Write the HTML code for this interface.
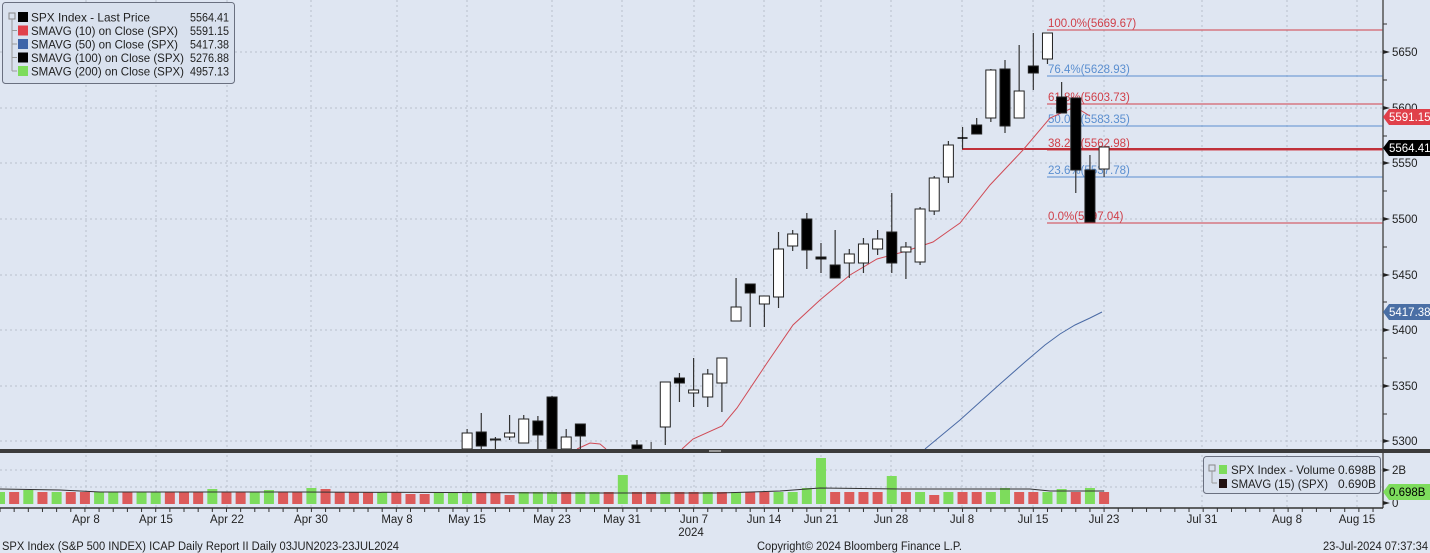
<!DOCTYPE html>
<html><head><meta charset="utf-8">
<style>
html,body{margin:0;padding:0;}
body{width:1430px;height:553px;overflow:hidden;background:#dfe6f2;font-family:"Liberation Sans",sans-serif;}
svg{display:block;}
text{font-family:"Liberation Sans",sans-serif;}
</style></head><body>
<svg id="s" width="1430" height="553" xmlns="http://www.w3.org/2000/svg">
<rect x="0" y="0" width="1430" height="553" fill="#dfe6f2"/>
<g id="grid"></g>
<g id="fib"></g>
<g id="ma"></g>
<g id="candles"></g>
<g id="vol"></g>
<g id="axes"></g>
</svg>
<script>
var NS="http://www.w3.org/2000/svg";
function el(p,t,a,txt){var e=document.createElementNS(NS,t);for(var k in a)e.setAttribute(k,a[k]);if(txt!==undefined)e.textContent=txt;document.getElementById(p).appendChild(e);return e;}
function tl(x,y,w,t,size,anchor){var a={x:x,y:y,'font-size':(size||12)+'px',fill:'#222',textLength:w,lengthAdjust:'spacingAndGlyphs'};if(anchor)a['text-anchor']=anchor;return el('axes','text',a,t);}
var S=14.155;function X(i){return S*i;}
var hy=[52,108,163,219,275,330,386,441];
hy.forEach(function(y){el('grid','line',{x1:0,x2:1383,y1:y,y2:y,stroke:'#b8c0cc','stroke-dasharray':'2,3','stroke-width':1});});
var labs=[["Apr 8",86],["Apr 15",156],["Apr 22",227],["Apr 30",311],["May 8",397],["May 15",467],["May 23",552],["May 31",622],["Jun 7",694],["Jun 14",764],["Jun 21",821],["Jun 28",891],["Jul 8",962],["Jul 15",1033],["Jul 23",1104],["Jul 31",1202],["Aug 8",1287],["Aug 15",1357]];
labs.forEach(function(l){el('grid','line',{x1:l[1],x2:l[1],y1:0,y2:449,stroke:'#b8c0cc','stroke-dasharray':'2,3'});el('grid','line',{x1:l[1],x2:l[1],y1:455,y2:508,stroke:'#b8c0cc','stroke-dasharray':'2,3'});});
[470,487].forEach(function(y){el('grid','line',{x1:0,x2:1383,y1:y,y2:y,stroke:'#b8c0cc','stroke-dasharray':'2,3'});});
var fib=[[30,'#d0404a','100.0%(5669.67)'],[76,'#5b8fd0','76.4%(5628.93)'],[104,'#d0404a','61.8%(5603.73)'],[126,'#5b8fd0','50.0%(5583.35)'],[150,'#d0404a','38.2%(5562.98)'],[177,'#5b8fd0','23.6%(5537.78)'],[223,'#d0404a','0.0%(5497.04)']];
fib.forEach(function(f){el('fib','line',{x1:1047,x2:1383,y1:f[0],y2:f[0],stroke:f[1],'stroke-width':1});el('fib','text',{x:1048,y:f[0]-3,fill:f[1],'font-size':'11.5px'},f[2]);});
el('fib','line',{x1:962,x2:1383,y1:149,y2:149,stroke:'#c0303a','stroke-width':2});
el('ma','polyline',{points:'577,449 590,443 600,444 606,449',fill:'none',stroke:'#d04a55','stroke-width':1});
el('ma','polyline',{points:'682,449 693,439 722,426 737,408 767,363 793,325 820,300 850,275 877,259 903,252 933,242 950,230 960,223 990,185 1023,150 1050,118 1070,109 1080,110 1090,116',fill:'none',stroke:'#d04a55','stroke-width':1});
el('ma','polyline',{points:'925,449 960,420 1000,384 1025,362 1045,345 1060,334 1075,325 1090,318 1102,312',fill:'none',stroke:'#4a6aa5','stroke-width':1});
var C=[[33,433,449,429,449,0],[34,432,446,413,449,1],[35,439,440,437,449,1],[36,433,437,415,440,0],[37,419,443,415,443,0],[38,421,435,416,449,1],[39,397,449,396,449,1],[40,437,449,429,449,0],[41,424,436,424,449,1],[45,445,449,440,449,1],[47,382,427,382,445,0],[48,378,383,373,402,1],[49,390,393,358,407,0],[50,374,397,369,407,0],[51,358,383,358,412,0],[52,307,321,278,321,0],[53,284,293,284,327,1],[54,296,304,296,327,0],[55,249,297,232,308,0],[56,234,246,230,251,0],[57,219,250,213,269,1],[58,257,259,243,273,1],[59,265,278,230,278,1],[60,254,263,249,278,0],[61,244,263,238,273,0],[62,239,249,230,255,0],[63,232,263,193,273,1],[64,247,252,242,279,0],[65,209,262,207,265,0],[66,178,211,176,215,0],[67,145,177,141,183,0],[68,138,138,127,149,1],[69,125,134,118,134,1],[70,70,118,69,122,0],[71,69,126,60,133,1],[72,91,118,45,118,0],[73,66,73,33,90,1],[74,33,59,33,64,0],[75,97,113,82,113,1],[76,98,170,98,193,1],[77,170,222,155,222,1],[78,147,169,147,177,0]];
el('candles','line',{x1:X(46),x2:X(46),y1:442,y2:449,stroke:'#333'});
C.forEach(function(c){var x=X(c[0]);el('candles','line',{x1:x,x2:x,y1:c[3],y2:c[4],stroke:'#333','stroke-width':1.2});
if(c[1]==c[2]){el('candles','line',{x1:x-5,x2:x+5,y1:c[1],y2:c[1],stroke:'#000','stroke-width':1.5});}
else el('candles','rect',{x:x-5,y:c[1],width:10,height:c[2]-c[1],fill:c[5]?'#000':'#fff',stroke:'#222','stroke-width':1});});
el('axes','rect',{x:0,y:449,width:1430,height:4,fill:'#3c3c3c'});
el('axes','rect',{x:709,y:450,width:12,height:2,fill:'#999'});
var col="GRGRGRRGGRGGRRRGRRGGRRGRRRRGRRRGGGRRRGGGRGGRGRRGRRGRGRRGGGGRRRRGRGRGRRGGRRGGRGR";
var hi={2:490,15:489,19:490,22:488,23:489,44:475,57:488,58:458,63:476,71:488,75:489,77:488,36:495,66:495,30:494,29:494};
for(var i=0;i<=78;i++){var x=X(i);var t=hi[i]||492;el('vol','rect',{x:x-5,y:t,width:10,height:504-t,fill:col[i]=='G'?'#7ddc5c':'#dc5a5a'});}
el('vol','polyline',{points:'0,489 60,490 100,492 300,492 560,493 720,493 780,491 820,488 900,489 1030,489 1050,491 1104,491',fill:'none',stroke:'#333','stroke-width':1});
el('axes','line',{x1:1383,x2:1383,y1:0,y2:449,stroke:'#555','stroke-width':1.5});
el('axes','line',{x1:1383,x2:1383,y1:453,y2:508,stroke:'#555','stroke-width':1.5});
el('axes','line',{x1:0,x2:1383,y1:508,y2:508,stroke:'#333','stroke-width':1.5});
for(var i=0;i<=97;i++){var x=X(i);el('axes','line',{x1:x,x2:x,y1:508,y2:512,stroke:'#333'});}
[[5650,52],[5600,108],[5550,163],[5500,219],[5450,275],[5400,330],[5350,386],[5300,441]].forEach(function(p){el('axes','path',{d:'M1383,'+(p[1]-2)+' L1390,'+p[1]+' L1383,'+(p[1]+2)+'Z',fill:'#222'});el('axes','text',{x:1392,y:p[1]+4,'font-size':'11.5px',fill:'#222'},p[0]);});
[24,80,136,191,247,302,358,414].forEach(function(y){el('axes','line',{x1:1383,x2:1387,y1:y,y2:y,stroke:'#333'});});
function tag(y,bg,fg,t){el('axes','path',{d:'M1383,'+y+' L1389,'+(y-8)+' L1430,'+(y-8)+' L1430,'+(y+8)+' L1389,'+(y+8)+'Z',fill:bg});el('axes','text',{x:1389,y:y+4,'font-size':'11.5px',fill:fg},t);}
tag(117,'#e0404a','#fff','5591.15');tag(148,'#000','#fff','5564.41');tag(312,'#4a6fa5','#fff','5417.38');
[[470,'2B'],[503,'0']].forEach(function(p){el('axes','path',{d:'M1383,'+(p[0]-2)+' L1390,'+p[0]+' L1383,'+(p[0]+2)+'Z',fill:'#222'});el('axes','text',{x:1392,y:p[0]+4,'font-size':'11.5px',fill:'#222'},p[1]);});
tag(492,'#7ddc5c','#000','0.698B');
labs.forEach(function(l){el('axes','text',{x:l[1],y:523,'font-size':'11.5px',fill:'#222','text-anchor':'middle'},l[0]);});
el('axes','text',{x:691,y:536,'font-size':'11.5px',fill:'#222','text-anchor':'middle'},'2024');
tl(2,550,397,'SPX Index (S&P 500 INDEX) ICAP Daily Report II  Daily 03JUN2023-23JUL2024',11.5);
tl(757,550,205,'Copyright\u00a9 2024 Bloomberg Finance L.P.',11.5);
tl(1323,550,105,'23-Jul-2024 07:37:34',11.5);
el('axes','rect',{x:2.5,y:2.5,width:232,height:81,rx:3,fill:'#d9e1ee',stroke:'#6a7080','stroke-width':1});
var L=[['#000','SPX Index - Last Price','5564.41',119],['#e0404a','SMAVG (10)  on Close (SPX)','5591.15',147],['#3d64a8','SMAVG (50)  on Close (SPX)','5417.38',147],['#000','SMAVG (100)  on Close (SPX)','5276.88',153],['#7ddc5c','SMAVG (200)  on Close (SPX)','4957.13',153]];
el('axes','rect',{x:9,y:13,width:6,height:6,fill:'none',stroke:'#888'});
el('axes','line',{x1:12,x2:12,y1:19,y2:71,stroke:'#999'});
L.forEach(function(r,k){var y=17+k*13.5;if(k>0)el('axes','line',{x1:12,x2:17,y1:y,y2:y,stroke:'#999'});el('axes','rect',{x:18,y:y-5,width:10,height:10,fill:r[0]});tl(31,y+4.5,r[3],r[1],12);tl(190,y+4.5,39,r[2],12);});
el('axes','rect',{x:1203.5,y:456.5,width:177,height:37,rx:3,fill:'#d9e1ee',stroke:'#6a7080'});
el('axes','rect',{x:1209,y:465,width:6,height:6,fill:'none',stroke:'#888'});
el('axes','line',{x1:1212,x2:1212,y1:471,y2:483,stroke:'#999'});
el('axes','line',{x1:1212,x2:1217,y1:483,y2:483,stroke:'#999'});
el('axes','rect',{x:1219,y:465,width:8,height:9,fill:'#7ddc5c'});
el('axes','rect',{x:1219,y:479,width:8,height:9,fill:'#201010'});
tl(1231,474,104,'SPX Index - Volume',12);
tl(1338,474,38,'0.698B',12);
tl(1231,488,97,'SMAVG (15) (SPX)',12);
tl(1338,488,38,'0.690B',12);
</script>
</body></html>
